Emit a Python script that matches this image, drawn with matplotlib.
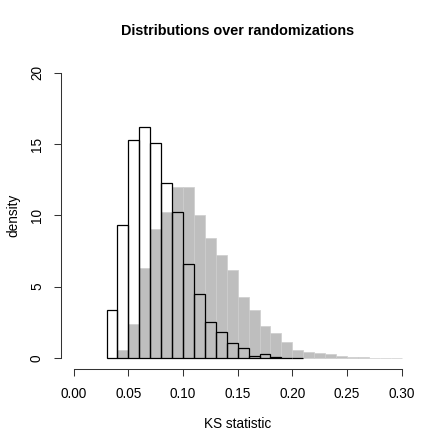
import numpy as np
import matplotlib
matplotlib.use("Agg")
import matplotlib.pyplot as plt

plt.rcParams['font.family'] = ['Liberation Sans', 'DejaVu Sans']

# density per 0.01-wide bin
bin_width = 0.01
grey_start = 0.04
grey_density = [0.56, 2.38, 6.34, 9.07, 10.23, 12.0, 11.96, 10.0, 8.41, 7.24,
                6.17, 4.27, 3.36, 2.21, 1.72, 1.14, 0.56, 0.44, 0.37, 0.30,
                0.14, 0.07, 0.05, 0.02, 0.01, 0.01]
white_start = 0.03
white_density = [3.36, 9.35, 15.3, 16.2, 15.1, 12.3, 10.26, 6.6, 4.5, 2.5,
                 1.8, 1.07, 0.67, 0.16, 0.26, 0.09, 0.02, 0.01]

x_ticks = [0.00, 0.05, 0.10, 0.15, 0.20, 0.25, 0.30]
x_tick_labels = ['0.00', '0.05', '0.10', '0.15', '0.20', '0.25', '0.30']
y_ticks = [0, 5, 10, 15, 20]

grey_left = grey_start + bin_width * np.arange(len(grey_density))
white_left = white_start + bin_width * np.arange(len(white_density))

fig = plt.figure(figsize=(4.46, 4.46), dpi=100)
ax = fig.add_axes([0.1359, 0.1717, 0.794, 0.691])

ax.bar(grey_left, grey_density, width=bin_width, align='edge',
       color='#bebebe', edgecolor='#cdcdcd', linewidth=0.5)
ax.bar(white_left, white_density, width=bin_width, align='edge',
       facecolor='none', edgecolor='black', linewidth=0.9)

ax.set_xlim(-0.012, 0.312)
ax.set_ylim(-0.8, 20.8)

for s in ['top', 'right']:
    ax.spines[s].set_visible(False)
ax.spines['bottom'].set_bounds(0, 0.3)
ax.spines['left'].set_bounds(0, 20)
for s in ['bottom', 'left']:
    ax.spines[s].set_linewidth(0.75)
    ax.spines[s].set_color('#333333')

ax.set_xticks(x_ticks)
ax.set_xticklabels(x_tick_labels)
ax.set_yticks(y_ticks)
ax.set_yticklabels([str(v) for v in y_ticks], rotation=90, va='center')
ax.tick_params(axis='both', direction='out', length=5, width=0.75,
               color='#333333', labelsize=9.8)
ax.tick_params(axis='x', pad=7.5)
ax.tick_params(axis='y', pad=7)

ax.set_xlabel('KS statistic', fontsize=9.8, labelpad=12)
ax.set_ylabel('density', fontsize=9.8, labelpad=7)
ax.set_title('Distributions over randomizations', fontsize=10.4,
             fontweight='bold', pad=19)

fig.savefig('out.png', dpi=100)
